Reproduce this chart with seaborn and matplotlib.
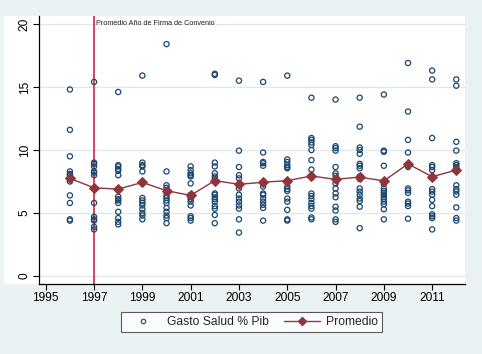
import matplotlib
matplotlib.use("Agg")
import matplotlib.pyplot as plt
from matplotlib.lines import Line2D
from matplotlib.patches import Rectangle
import seaborn as sns
import pandas as pd

# Gasto Salud % Pib, one list per year
gasto_1996 = [14.8, 11.6, 9.5, 8.3, 8.1, 8.0, 7.5, 6.4, 5.8, 4.5, 4.4]
gasto_1997 = [15.4, 9.0, 8.9, 8.7, 8.3, 8.2, 8.0, 5.8, 4.7, 4.5, 4.4, 3.9, 3.7]
gasto_1998 = [14.6, 8.8, 8.7, 8.5, 8.35, 8.0, 6.3, 6.1, 6.0, 5.8, 5.1, 4.6, 4.3, 4.1]
gasto_1999 = [15.9, 9.0, 8.8, 8.7, 8.3, 6.2, 6.0, 5.8, 5.6, 5.3, 5.0, 4.8, 4.5]
gasto_2000 = [18.4, 8.3, 7.2, 7.0, 6.6, 6.35, 6.2, 6.0, 5.8, 5.4, 5.1, 4.8, 4.6, 4.2]
gasto_2001 = [8.7, 8.4, 8.15, 8.0, 7.9, 7.35, 6.45, 6.25, 6.1, 5.9, 5.6, 4.75, 4.6, 4.4]
gasto_2002 = [16.05, 15.95, 9.0, 8.7, 8.15, 7.9, 7.7, 7.55, 6.55, 6.45, 6.25, 6.1,
              5.9, 5.55, 5.35, 4.85, 4.2]
gasto_2003 = [15.5, 9.95, 8.65, 8.0, 7.75, 7.2, 6.95, 6.45, 6.15, 5.9, 5.6, 5.35, 4.5, 3.45]
gasto_2004 = [15.4, 9.8, 9.05, 8.95, 8.75, 7.35, 7.1, 6.55, 6.45, 6.15, 5.9, 5.65, 5.4, 4.4]
gasto_2005 = [15.9, 9.25, 9.05, 8.8, 8.65, 8.55, 7.5, 7.1, 6.9, 6.75, 6.15, 5.9, 5.25,
              4.5, 4.4]
gasto_2006 = [14.15, 10.95, 10.8, 10.6, 10.4, 10.0, 9.2, 8.45, 7.95, 6.55, 6.35, 6.1,
              5.8, 5.55, 5.35, 4.65, 4.5]
gasto_2007 = [14.0, 10.3, 10.15, 9.95, 8.65, 8.15, 7.95, 7.35, 6.95, 6.55, 6.25, 5.5,
              5.2, 4.5, 4.3]
gasto_2008 = [14.15, 11.85, 10.2, 10.0, 9.7, 8.9, 8.75, 8.55, 7.9, 7.7, 6.95, 6.7,
              6.45, 6.15, 5.95, 5.5, 3.8]
gasto_2009 = [14.4, 9.95, 9.85, 8.75, 7.3, 6.95, 6.75, 6.6, 6.45, 6.25, 6.1, 5.9, 5.7,
              5.3, 4.5]
gasto_2010 = [16.9, 13.05, 10.8, 9.8, 8.8, 8.65, 6.95, 6.8, 6.6, 5.9, 5.75, 5.55, 4.55]
gasto_2011 = [16.3, 15.6, 10.95, 8.8, 8.65, 8.4, 6.9, 6.7, 6.45, 6.05, 5.55, 4.9, 4.75,
              4.6, 3.7]
gasto_2012 = [15.6, 15.1, 10.65, 9.95, 8.95, 8.8, 8.65, 7.2, 6.9, 6.7, 6.45, 5.45, 4.6, 4.4]

years = list(range(1996, 2013))
promedio = [7.75, 7.0, 6.9, 7.43, 6.77, 6.4, 7.57, 7.28, 7.44, 7.57, 7.94, 7.67,
            7.85, 7.55, 8.9, 7.88, 8.41]
anio_convenio = 1997
xticks = list(range(1995, 2012, 2))
yticks = [0, 5, 10, 15, 20]

gasto_lists = [gasto_1996, gasto_1997, gasto_1998, gasto_1999, gasto_2000, gasto_2001,
               gasto_2002, gasto_2003, gasto_2004, gasto_2005, gasto_2006, gasto_2007,
               gasto_2008, gasto_2009, gasto_2010, gasto_2011, gasto_2012]

rows = []
for yr, vals in zip(years, gasto_lists):
    for v in vals:
        rows.append({"Year": yr, "Gasto": v})
df = pd.DataFrame(rows)
df_avg = pd.DataFrame({"Year": years, "Promedio": promedio})

navy = "#1a476f"
maroon = "#90353b"
red = "#d0103a"
bg = "#eaf2f3"

sns.set_style("white")
plt.rcParams["font.family"] = ["Liberation Sans", "DejaVu Sans"]

W, H = 482, 354
fig = plt.figure(figsize=(W / 100, H / 100), dpi=100)
fig.patch.set_facecolor(bg)
# white inner region (covers y tick labels too)
inner = Rectangle((4 / W, 1 - 284 / H), (465 - 4) / W, (284 - 16) / H,
                  transform=fig.transFigure, facecolor="white", edgecolor="none",
                  zorder=-5)
fig.add_artist(inner)
ax = fig.add_axes([39 / W, 1 - 284 / H, (465 - 39) / W, (284 - 16) / H])
ax.set_zorder(1)
ax.set_facecolor("white")

ax.set_xlim(1994.72, 2012.36)
ax.set_ylim(-0.63, 20.63)
for t in yticks:
    ax.axhline(t, color="#dfe8ea", lw=0.9, zorder=0)

ax.axvline(anio_convenio, color=red, lw=1.1, zorder=1)
ax.text(anio_convenio + 0.07, 20, "Promedio Año de Firma de Convenio",
        fontsize=5.2, ha="left", va="center", color="#222222")

sns.scatterplot(data=df, x="Year", y="Gasto", ax=ax, marker="o", s=14,
                facecolors="none", edgecolor=navy, linewidth=0.9, zorder=3,
                legend=False)
sns.lineplot(data=df_avg, x="Year", y="Promedio", ax=ax, color=maroon, lw=1.0,
             marker="D", markersize=5.5, markeredgecolor=maroon, zorder=4,
             legend=False)

ax.set_xticks(xticks)
ax.set_yticks(yticks)
ax.set_yticklabels([str(t) for t in yticks], rotation=90, va="center")
ax.tick_params(axis="both", direction="out", length=4, width=0.8, colors="black",
               labelsize=8.6, pad=2)
ax.tick_params(axis="x", bottom=True)
ax.tick_params(axis="y", left=True)
ax.set_xlabel("")
ax.set_ylabel("")
for side in ["top", "right"]:
    ax.spines[side].set_visible(False)
for side in ["left", "bottom"]:
    ax.spines[side].set_color("black")
    ax.spines[side].set_linewidth(0.9)

handles = [
    Line2D([], [], ls="none", marker="o", markersize=3.2, markerfacecolor="none",
           markeredgecolor=navy, markeredgewidth=0.8),
    Line2D([], [], color=maroon, lw=1.0, marker="D", markersize=4,
           markeredgecolor=maroon),
]
leg = fig.legend(handles, ["Gasto Salud % Pib", "Promedio"], ncol=2,
                 loc="center", bbox_to_anchor=(251.5 / W, 1 - 322 / H),
                 frameon=True, fancybox=False, fontsize=8.7, handlelength=3.0,
                 columnspacing=1.2, handletextpad=0.5, borderpad=0.35)
leg.get_frame().set_edgecolor("#333333")
leg.get_frame().set_linewidth(0.8)

fig.savefig("out.png", dpi=100, facecolor=bg)
